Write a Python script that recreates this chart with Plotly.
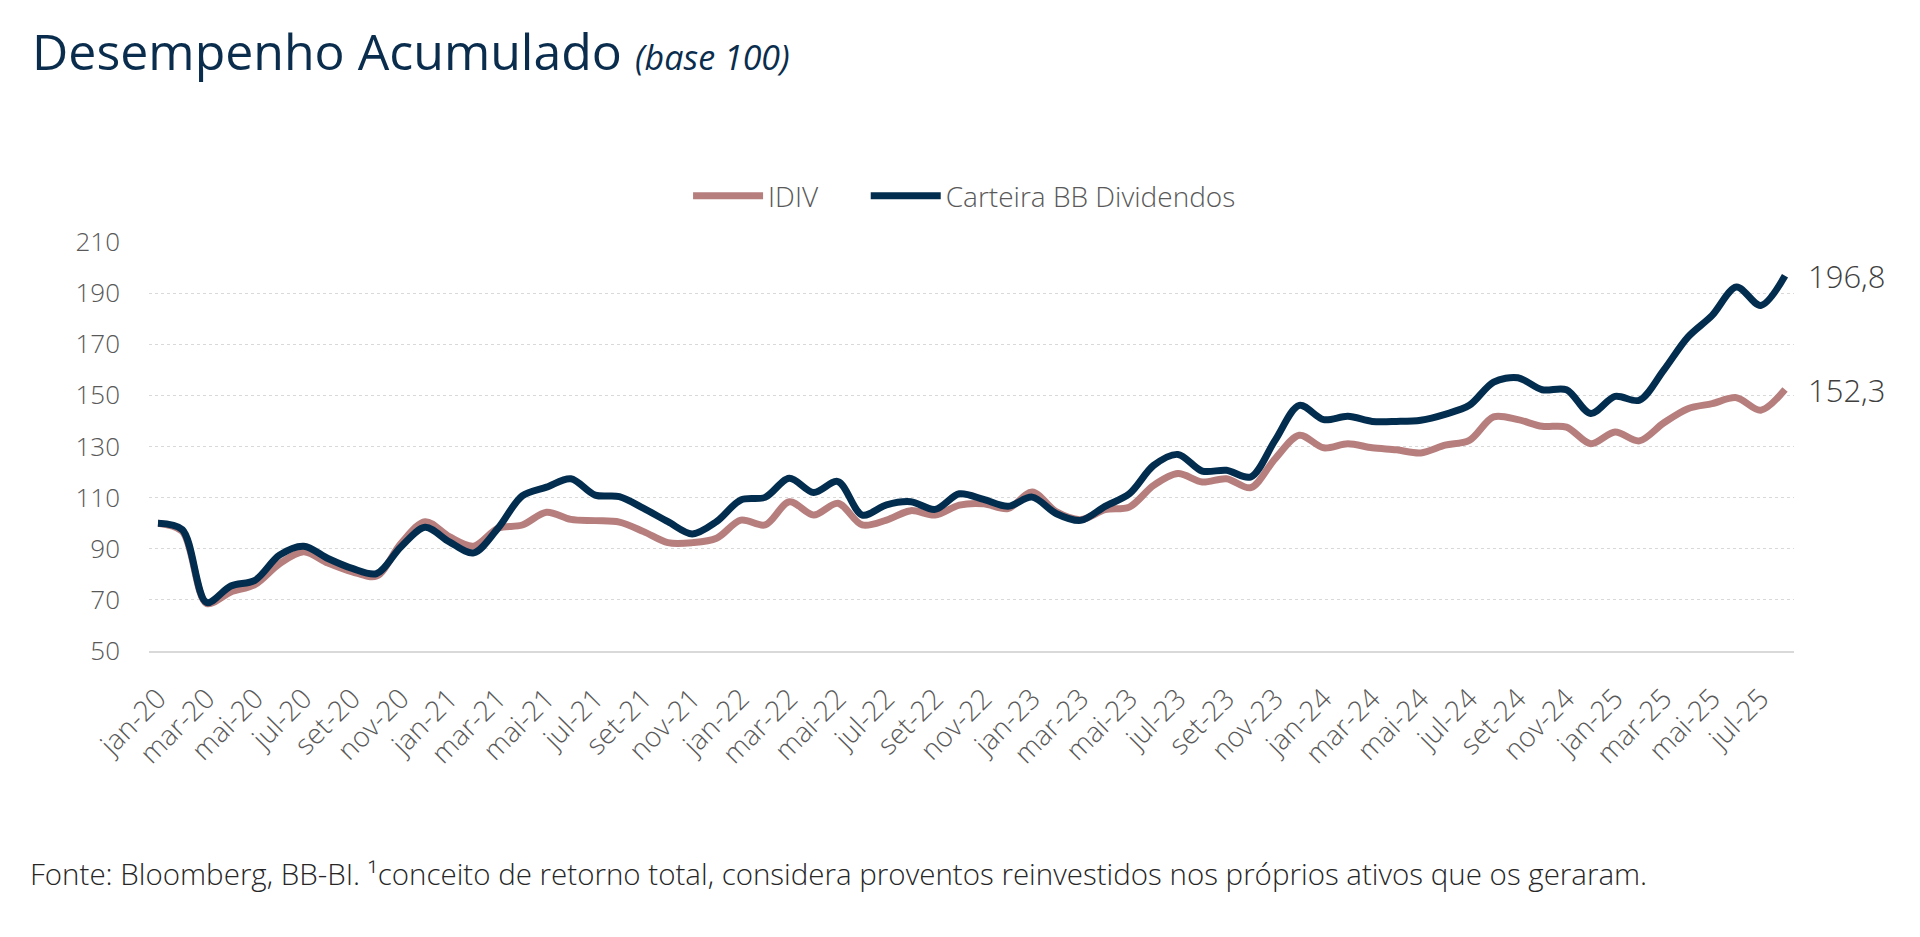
import plotly.graph_objects as go

months_pt = ["jan", "fev", "mar", "abr", "mai", "jun", "jul", "ago", "set", "out", "nov", "dez"]
categories = [f"{m}-{y}" for y in range(20, 26) for m in months_pt][:68]  # jan-20 .. ago-25

idiv = [100.0, 96.8, 68.6, 73.1, 76.0, 84.1, 88.8, 84.4, 81.0, 79.3,
        92.0, 100.6, 94.7, 91.0, 98.0, 99.3, 104.3, 101.5, 101.0, 100.4,
        96.7, 92.4, 92.4, 94.1, 101.2, 99.3, 108.4, 103.2, 107.8, 99.3,
        101.2, 104.9, 103.2, 107.1, 107.6, 105.7, 112.2, 104.4, 101.4, 105.3,
        106.3, 114.8, 119.4, 116.1, 117.4, 113.9, 125.2, 134.4, 129.5, 131.1,
        129.5, 128.7, 127.5, 130.5, 132.4, 141.6, 140.5, 137.9, 137.6, 131.1,
        135.7, 132.2, 139.2, 144.8, 146.8, 149.1, 144.2, 152.3]

carteira = [100.0, 97.5, 69.0, 75.4, 77.7, 87.5, 91.0, 86.2, 82.3, 80.3,
            90.7, 98.4, 92.7, 88.4, 98.0, 110.7, 114.1, 117.4, 111.0, 110.4,
            105.8, 100.6, 95.8, 100.6, 109.1, 110.1, 117.6, 112.0, 116.3, 103.2,
            107.2, 108.4, 105.4, 111.5, 109.3, 106.6, 110.2, 103.7, 101.1, 106.6,
            111.5, 122.6, 126.9, 120.4, 120.7, 118.1, 132.4, 146.1, 140.5, 141.8,
            139.8, 139.8, 140.3, 142.6, 146.1, 155.2, 156.9, 152.2, 152.2, 142.9,
            149.6, 148.1, 159.8, 172.8, 181.3, 192.4, 185.2, 196.8]

tick_labels = categories[::2]
y_ticks = [50, 70, 90, 110, 130, 150, 170, 190, 210]

PINK = "#B77E7E"
NAVY = "#032D4E"
FONT = "Open Sans"

fig = go.Figure()
fig.add_trace(go.Scatter(x=categories, y=idiv, name="IDIV", mode="lines", legend="legend",
                         line=dict(color=PINK, width=7, shape="spline", smoothing=0.9)))
fig.add_trace(go.Scatter(x=categories, y=carteira, name="Carteira BB Dividendos", mode="lines",
                         legend="legend2",
                         line=dict(color=NAVY, width=7, shape="spline", smoothing=0.9)))

for series in (carteira, idiv):
    fig.add_annotation(x=categories[-1], y=series[-1], text=f"{series[-1]:.1f}".replace(".", ","),
                       showarrow=False, xanchor="left", yanchor="middle", xshift=21,
                       font=dict(family=FONT, size=31, color="#404040", weight=300))

legend_font = dict(family=FONT, size=28, color="#595959", weight=300)
fig.update_layout(
    width=1912, height=929,
    margin=dict(l=141, r=126, t=234, b=286),
    paper_bgcolor="white", plot_bgcolor="white",
    title=dict(
        text="Desempenho Acumulado <i><span style='font-size:34px'>(base 100)</span></i>",
        xref="container", yref="container", x=0.0126, y=0.9526,
        xanchor="left", yanchor="middle",
        font=dict(family=FONT, size=50, color="#0A2D4D"),
    ),
    legend=dict(orientation="h", xref="paper", yref="paper", x=0.3277, y=1.1125,
                xanchor="left", yanchor="middle", font=legend_font, itemwidth=70),
    legend2=dict(orientation="h", xref="paper", yref="paper", x=0.4357, y=1.1125,
                 xanchor="left", yanchor="middle", font=legend_font, itemwidth=70),
    showlegend=True,
)

fig.update_xaxes(
    type="category", range=[-0.37, len(categories) - 1 + 0.37],
    tickmode="array", tickvals=tick_labels, ticktext=tick_labels,
    tickangle=-45, ticks="", showgrid=False, zeroline=False,
    showline=True, linecolor="#D9D9D9", linewidth=2, ticklabelstandoff=18,
    tickfont=dict(family=FONT, size=28, color="#595959", weight=300),
)
fig.update_yaxes(
    range=[50, 210], tickmode="array", tickvals=y_ticks,
    showgrid=True, gridcolor="#D9D9D9", griddash="dot", gridwidth=1,
    zeroline=False, showline=False, ticks="", ticklabelstandoff=28,
    tickfont=dict(family=FONT, size=26, color="#595959", weight=300),
)

fig.add_annotation(
    xref="paper", yref="paper", x=(28 - 149) / 1645, y=(651 - 873) / 409,
    xanchor="left", yanchor="middle", showarrow=False,
    text="Fonte: Bloomberg, BB-BI. ¹conceito de retorno total, considera proventos reinvestidos nos próprios ativos que os geraram.",
    font=dict(family=FONT, size=29.5, color="#262626", weight=300),
)

fig.write_html("out.html")
